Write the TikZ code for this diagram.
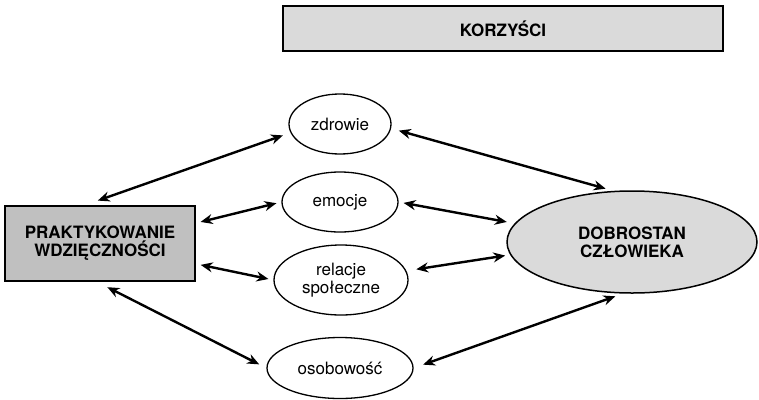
\documentclass[tikz,border=0pt]{standalone}
\usepackage{fontspec}
\setmainfont{TeX Gyre Heros}
\usetikzlibrary{shapes.geometric,arrows.meta}
\definecolor{szaryjasny}{RGB}{218,218,218}
\definecolor{szaryciemny}{RGB}{192,192,192}
\tikzset{
	pole/.style={draw,line width=1.5pt,inner sep=0pt,align=center,font=\fontsize{17}{18}\selectfont\bfseries},
	owal/.style={ellipse,draw,line width=1.3pt,inner sep=0pt,align=center,font=\fontsize{17}{18}\selectfont},
	strz/.style={{Stealth[length=12pt,width=10pt]}-{Stealth[length=12pt,width=10pt]},line width=2.4pt,shorten <=8pt,shorten >=8pt}
}
\begin{document}
\begin{tikzpicture}[x=1pt,y=-1pt]
			          %\draw[help lines] (0,0) grid[step=50] (759,399);
			          \useasboundingbox (0,0) rectangle (759,399);
			          \node[pole,fill=szaryjasny,minimum width=440pt,minimum height=45pt](K) at (503,28.5) {KORZYŚCI};
			          \node[pole,fill=szaryciemny,minimum width=190pt,minimum height=75pt](P) at (100,243.5) {PRAKTYKOWANIE\\WDZIĘCZNOŚCI};
			          \node[owal,fill=szaryjasny,minimum width=250pt,minimum height=102pt,line width=1.5pt,font=\fontsize{17}{18}\selectfont\bfseries](D) at (632,242) {DOBROSTAN\\CZŁOWIEKA};
			          %czynniki
			          \node[owal,minimum width=102pt,minimum height=60pt](Z) at (340,124) {zdrowie};
			          \node[owal,minimum width=116pt,minimum height=60pt](E) at (340,202) {emocje};
			          \node[owal,minimum width=134pt,minimum height=70pt](R) at (341,280) {relacje\\społeczne};
			          \node[owal,minimum width=146pt,minimum height=61pt](O) at (340,368) {osobowość};
			          %strzalki
			          \draw[strz,shorten <=14pt] (P.112) -- (Z.190);
			          \draw[strz] (Z.-5) -- (D.110);
			          \draw[strz,shorten <=5pt,shorten >=5pt] (E.west) -- (P.12);
			          \draw[strz,shorten <=5pt] (E.east) -- (D.171);
			          \draw[strz,shorten <=5pt,shorten >=5pt] (P.-12) -- (R.west);
			          \draw[strz,shorten <=10pt,shorten >=5pt] (R.8) -- (D.186);
			          \draw[strz,shorten <=12pt] (P.-95) -- (O.west);
			          \draw[strz,shorten <=10pt] (O.east) -- (D.-100);
				  \end{tikzpicture}
\end{document}
